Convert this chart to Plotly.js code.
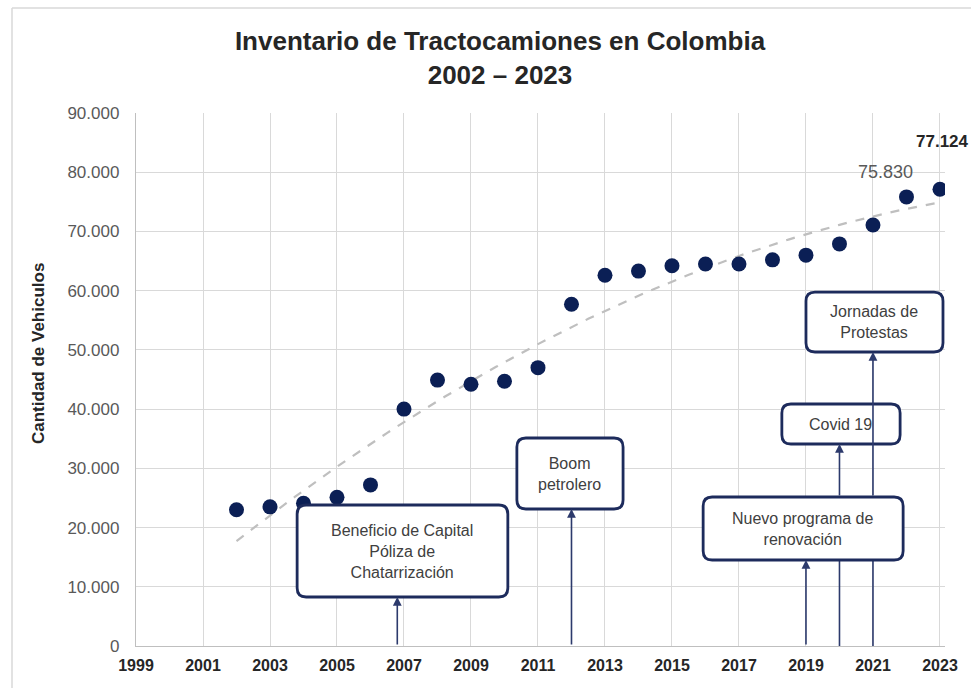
<!DOCTYPE html>
<html>
<head>
<meta charset="utf-8">
<script src="https://cdn.plot.ly/plotly-3.0.1.min.js"></script>
<style>
html,body{margin:0;padding:0;background:#fff;}
#chart{width:971px;height:688px;}
</style>
</head>
<body>
<div id="chart"></div>
<script>
// ---- data ----
var years = [2002,2003,2004,2005,2006,2007,2008,2009,2010,2011,2012,2013,2014,2015,2016,2017,2018,2019,2020,2021,2022,2023];
var vehicles = [23000,23500,24100,25100,27200,40000,44900,44200,44700,47000,57700,62600,63300,64200,64500,64500,65200,66000,67900,71100,75830,77124];
var xTickYears = [1999,2001,2003,2005,2007,2009,2011,2013,2015,2017,2019,2021,2023];
var yTickValues = [0,10000,20000,30000,40000,50000,60000,70000,80000,90000];
var eventLabels = ["Beneficio de Capital<br>Póliza de<br>Chatarrización","Boom<br>petrolero","Nuevo programa de<br>renovación","Covid 19","Jornadas de<br>Protestas"];
var eventYears = [2006.8, 2012, 2019, 2020, 2021];

// ---- quadratic trend (least squares on the data) ----
function quadFit(xs, ys){
  var n=xs.length, xm=2012;
  var S=[0,0,0,0,0], T=[0,0,0];
  for(var i=0;i<n;i++){var t=xs[i]-xm;var p=1;for(var k=0;k<5;k++){S[k]+=p;if(k<3)T[k]+=p*ys[i];p*=t;}}
  var A=[[S[0],S[1],S[2],T[0]],[S[1],S[2],S[3],T[1]],[S[2],S[3],S[4],T[2]]];
  for(var c=0;c<3;c++){for(var r=c+1;r<3;r++){var f=A[r][c]/A[c][c];for(var j=c;j<4;j++)A[r][j]-=f*A[c][j];}}
  var co=[0,0,0];
  for(var r2=2;r2>=0;r2--){var s=A[r2][3];for(var j2=r2+1;j2<3;j2++)s-=A[r2][j2]*co[j2];co[r2]=s/A[r2][r2];}
  return function(x){var t=x-xm;return co[0]+co[1]*t+co[2]*t*t;};
}
var fit = quadFit(years, vehicles);
var trendX=[], trendY=[];
for(var x=years[0]; x<=years[years.length-1]+1e-9; x+=0.25){trendX.push(x);trendY.push(fit(x));}

var navy = '#0b1f55';
var boxColor = '#1d2b5c';
var arrowColor = '#2c3a6c';
var FONT = 'Liberation Sans, Arial, sans-serif';

var traces = [
  {x:trendX, y:trendY, mode:'lines', line:{color:'#bfbfbf', width:2.2, dash:'dash'}, hoverinfo:'skip', showlegend:false},
  {x:years, y:vehicles, mode:'markers', marker:{color:navy, size:15}, showlegend:false}
];

// rounded rectangle boxes (data coords)
var pxX = 809/24.15, pxY = 533/90000;
function rbox(x0,x1,y0,y1){
  var rx = 9/pxX, ry = 9/pxY;
  return {type:'path', xref:'x', yref:'y', layer:'above',
    path:'M '+(x0+rx)+','+y1+' L '+(x1-rx)+','+y1+' Q '+x1+','+y1+' '+x1+','+(y1-ry)+
         ' L '+x1+','+(y0+ry)+' Q '+x1+','+y0+' '+(x1-rx)+','+y0+
         ' L '+(x0+rx)+','+y0+' Q '+x0+','+y0+' '+x0+','+(y0+ry)+
         ' L '+x0+','+(y1-ry)+' Q '+x0+','+y1+' '+(x0+rx)+','+y1+' Z',
    fillcolor:'#ffffff', line:{color:boxColor, width:2.8}};
}
var boxes = [
  [2003.81,2010.10,8270,23810],
  [2010.37,2013.54,23130,35120],
  [2015.93,2021.90,14520,25160],
  [2018.28,2021.81,34110,40860],
  [2019.00,2023.09,49640,59770]
];
var shapes = [];
// lines under the "Nuevo programa" box for 2020 and 2021
shapes.push({type:'line', xref:'x', yref:'y', x0:eventYears[3], x1:eventYears[3], y0:0, y1:boxes[2][2], line:{color:arrowColor,width:1.6}, layer:'above'});
shapes.push({type:'line', xref:'x', yref:'y', x0:eventYears[4], x1:eventYears[4], y0:0, y1:boxes[2][2], line:{color:arrowColor,width:1.6}, layer:'above'});
boxes.forEach(function(b){shapes.push(rbox(b[0],b[1],b[2],b[3]));});
// chart frame
shapes.push({type:'line', xref:'paper', yref:'paper', x0:(12-136)/809, x1:(12-136)/809, y0:-0.2, y1:1+(113-8)/533, line:{color:'#d9d9d9',width:1.5}});
shapes.push({type:'line', xref:'paper', yref:'paper', x0:(12-136)/809, x1:1.1, y0:1+(113-8)/533, y1:1+(113-8)/533, line:{color:'#d9d9d9',width:1.5}});

var annotations = [];
// box texts
boxes.forEach(function(b,i){
  annotations.push({x:(b[0]+b[1])/2, y:(b[2]+b[3])/2, xref:'x', yref:'y', text:eventLabels[i], showarrow:false,
    font:{family:FONT, size:16, color:'#404040'}, align:'center', xanchor:'center', yanchor:'middle'});
});
// arrows
var arrowTails = [0, 0, 0, boxes[2][3], boxes[2][3]];
var arrowHeads = [boxes[0][2], boxes[1][2], boxes[2][2], boxes[3][2], boxes[4][2]];
for(var i=0;i<eventYears.length;i++){
  annotations.push({x:eventYears[i], y:arrowHeads[i], ax:eventYears[i], ay:arrowTails[i], xref:'x', yref:'y', axref:'x', ayref:'y',
    text:'', showarrow:true, arrowhead:2, arrowsize:1.1, arrowwidth:1.6, arrowcolor:arrowColor, standoff:0, startstandoff:0});
}
// value labels
annotations.push({x:years[20], y:vehicles[20], xref:'x', yref:'y', text:'75.830', showarrow:false, yshift:25, xshift:-21,
  font:{family:FONT, size:18, color:'#595959'}});
annotations.push({x:years[21], y:vehicles[21], xref:'x', yref:'y', text:'<b>77.124</b>', showarrow:false, yshift:48, xshift:3,
  font:{family:FONT, size:17, color:'#262626'}});
// y axis title
annotations.push({xref:'paper', yref:'paper', x:(38-136)/809, y:(646-354)/533, text:'<b>Cantidad de Vehiculos</b>', textangle:-90,
  showarrow:false, xanchor:'center', yanchor:'middle', font:{family:FONT, size:17, color:'#262626'}});

var layout = {
  width:971, height:688,
  margin:{l:136, r:26, t:113, b:42},
  paper_bgcolor:'#ffffff', plot_bgcolor:'#ffffff',
  separators:',.',
  showlegend:false,
  title:{text:'<b>Inventario de Tractocamiones en Colombia</b><br><b>2002 – 2023</b>', x:500/971, xanchor:'center', y:1-60/688, yanchor:'middle',
    font:{family:FONT, size:26, color:'#262626'}},
  xaxis:{range:[1999,2023.15], tickvals:xTickYears, ticktext:xTickYears.map(String), showgrid:true, gridcolor:'#d9d9d9', gridwidth:1,
    zeroline:false, showline:true, linecolor:'#bfbfbf', linewidth:1.2, ticks:'', ticklen:0, ticklabelstandoff:5,
    tickfont:{family:FONT, size:16, color:'#262626', weight:'bold'}, fixedrange:true},
  yaxis:{range:[0,90000], tickvals:yTickValues, tickformat:',d', showgrid:true, gridcolor:'#d9d9d9', gridwidth:1,
    zeroline:false, showline:true, linecolor:'#bfbfbf', linewidth:1.2, ticks:'', ticklabelstandoff:12,
    tickfont:{family:FONT, size:17, color:'#595959'}, fixedrange:true},
  shapes:shapes,
  annotations:annotations
};

Plotly.newPlot('chart', traces, layout, {displayModeBar:false, staticPlot:true});

// place the two title lines like the reference (centres near y=45 and y=75)
var gd = document.getElementById('chart');
(function fixTitle(){
  var t = gd.querySelector('.gtitle');
  if(!t) return;
  var bb = t.getBBox();
  var centre = bb.y + bb.height/2;
  var dy = 58 - centre;
  t.setAttribute('transform', 'translate(0,'+dy+')');
})();
</script>
</body>
</html>
